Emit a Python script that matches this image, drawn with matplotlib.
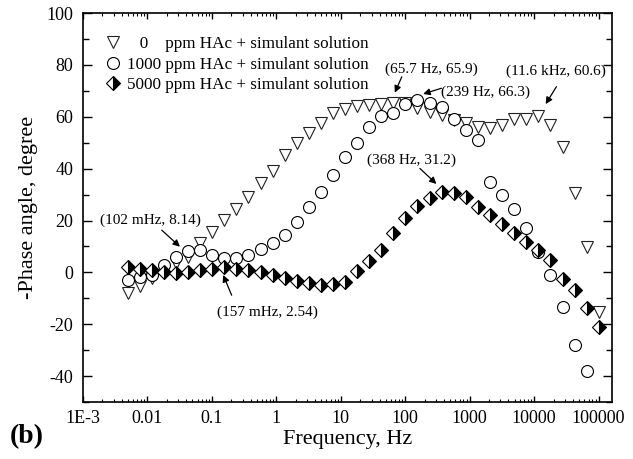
import numpy as np
import matplotlib
matplotlib.use("Agg")
import matplotlib.pyplot as plt
import matplotlib.ticker as ticker

plt.rcParams['font.family'] = ['Liberation Serif', 'DejaVu Serif']
plt.rcParams['axes.unicode_minus'] = False

# frequencies, Hz (low -> high)
freq = [0.00495, 0.00762, 0.0117, 0.0181, 0.0278, 0.0429, 0.0660, 0.102, 0.157, 0.240,
        0.369, 0.569, 0.876, 1.35, 2.08, 3.20, 4.92, 7.58, 11.7, 18.0,
        27.7, 42.6, 65.7, 101, 155, 239, 368, 566, 871, 1340,
        2070, 3180, 4900, 7550, 11600, 17900, 27600, 42500, 65500, 100800]

# -phase angle, degree
phase_0 = [-8.1, -5.2, -2.0, 0.8, 3.5, 6.0, 11.2, 15.5, 20.2, 24.3,
           29.2, 34.3, 39.2, 45.2, 49.7, 53.6, 57.5, 61.3, 63.0, 64.2,
           64.5, 64.8, 65.5, 65.2, 63.5, 62.0, 60.7, 58.7, 57.5, 56.2,
           55.8, 56.8, 59.0, 59.0, 60.3, 56.8, 48.4, 30.5, 9.9, -15.2]
phase_1000 = [-3.0, -1.7, -1.0, 2.8, 6.0, 8.2, 8.6, 6.9, 5.6, 5.4,
              6.7, 8.9, 11.2, 14.4, 19.5, 25.3, 31.1, 37.5, 44.6, 49.7,
              55.9, 60.3, 61.6, 64.9, 66.4, 65.4, 63.6, 59.0, 54.9, 51.0,
              34.9, 29.8, 24.5, 17.0, 8.0, -1.0, -13.3, -28.0, -37.9, np.nan]
phase_5000 = [2.2, 1.5, 1.1, 0.2, -0.4, 0.2, 0.9, 1.5, 2.2, 1.5,
              0.9, 0.2, -1.0, -2.3, -3.2, -4.2, -4.9, -4.5, -3.6, 0.5,
              4.4, 8.6, 15.0, 20.8, 25.6, 28.5, 31.1, 30.5, 29.2, 25.3,
              22.1, 18.8, 15.0, 11.8, 8.6, 4.7, -2.7, -6.6, -13.9, -21.0]

labels = ["   0    ppm HAc + simulant solution",
          "1000 ppm HAc + simulant solution",
          "5000 ppm HAc + simulant solution"]

xticks = [1e-3, 1e-2, 1e-1, 1, 10, 100, 1000, 10000, 100000]
xtick_labels = ["1E-3", "0.01", "0.1", "1", "10", "100", "1000", "10000", "100000"]

# annotations: text, text position, arrow start, arrow tip
notes = [
    ("(65.7 Hz, 65.9)", (254, 78.3), (88.5, 75.4), (69, 69.3)),
    ("(239 Hz, 66.3)", (1766, 69.6), (365, 71.0), (190, 68.8)),
    ("(11.6 kHz, 60.6)", (21500, 77.4), (22200, 71.6), (15100, 64.9)),
    ("(368 Hz, 31.2)", (125, 43.3), (169, 40.1), (305, 34.1)),
    ("(102 mHz, 8.14)", (0.0113, 20.2), (0.0167, 16.3), (0.032, 9.9)),
    ("(157 mHz, 2.54)", (0.728, -15.2), (0.203, -8.8), (0.150, -1.0)),
]

fig = plt.figure(figsize=(6.33, 4.59), dpi=100)
ax = fig.add_axes([0.131, 0.124, 0.8354, 0.8476])

ax.plot(freq, phase_0, ls='none', marker='v', ms=9, mfc='white', mec='#222222', mew=0.8,
        label=labels[0])
ax.plot(freq, phase_1000, ls='none', marker='o', ms=8.6, mfc='white', mec='black', mew=0.8,
        label=labels[1])
ax.plot(freq, phase_5000, ls='none', marker='D', ms=7.4, fillstyle='right', mfc='black',
        markerfacecoloralt='white', mec='black', mew=0.8, label=labels[2])

for txt, tpos, start, tip in notes:
    ax.text(tpos[0], tpos[1], txt, ha='center', va='center', fontsize=11)
    ax.annotate("", xy=tip, xytext=start,
                arrowprops=dict(arrowstyle='-|>', color='black', lw=0.9,
                                mutation_scale=10, shrinkA=0, shrinkB=0))

ax.set_xscale('log')
ax.set_xlim(1e-3, 1.6e5)
ax.set_ylim(-50, 100)
ax.xaxis.set_major_locator(ticker.FixedLocator(xticks))
ax.xaxis.set_major_formatter(ticker.FixedFormatter(xtick_labels))
ax.xaxis.set_minor_locator(ticker.LogLocator(base=10, subs=np.arange(2, 10), numticks=20))
ax.xaxis.set_minor_formatter(ticker.NullFormatter())
ax.yaxis.set_major_locator(ticker.MultipleLocator(20))
ax.yaxis.set_minor_locator(ticker.MultipleLocator(10))

ax.tick_params(which='both', direction='in', top=True, right=True, labelsize=13)
ax.tick_params(axis='y', which='major', length=6.5, width=1, pad=7)
ax.tick_params(axis='y', which='minor', length=4, width=1)
ax.tick_params(axis='x', which='major', length=4.5, width=1, pad=6)
ax.tick_params(axis='x', which='minor', length=2.5, width=0.8)
for s in ax.spines.values():
    s.set_linewidth(1.2)

ax.set_xlabel("Frequency, Hz", fontsize=16, labelpad=2)
ax.set_ylabel("-Phase angle, degree", fontsize=16, labelpad=6)

ax.legend(loc='upper left', bbox_to_anchor=(0.04, 0.94), frameon=False, fontsize=12.3,
          handlelength=1.0, handletextpad=0.35, labelspacing=0.25, borderaxespad=0,
          borderpad=0)

fig.text(0.043, 0.048, "(b)", fontsize=20, fontweight='bold', ha='center', va='center')

fig.savefig("out.png", dpi=100)
